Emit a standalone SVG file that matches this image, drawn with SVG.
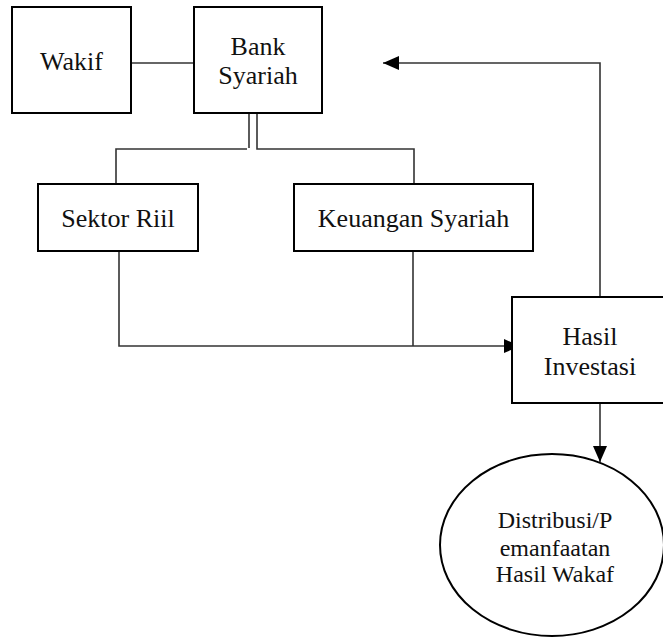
<svg xmlns="http://www.w3.org/2000/svg" width="663" height="637" viewBox="0 0 663 637">
  <style>
    .box { fill: #fff; stroke: #000; stroke-width: 2; }
    .conn { fill: none; stroke: #333; stroke-width: 1.6; }
    .lbl { font-family: "Liberation Serif", "Times New Roman", serif; font-size: 26px; fill: #111; text-anchor: middle; }
    .sm { font-size: 24px; }
  </style>
  <defs>
    <marker id="ah" markerUnits="userSpaceOnUse" markerWidth="16" markerHeight="14" refX="16" refY="7" orient="auto">
      <path d="M0,0 L16,7 L0,14 Z" fill="#000"/>
    </marker>
  </defs>
  <rect width="663" height="637" fill="#fff"/>
  <g id="connectors">
    <path class="conn" d="M131 63 H194"/>
    <path class="conn" d="M249 114 V148"/>
    <path class="conn" d="M247 149 H116 V184"/>
    <path class="conn" d="M257 114 V149 H414 V184"/>
    <path class="conn" d="M119 251 V346 H520" marker-end="url(#ah)"/>
    <path class="conn" d="M413 251 V346"/>
    <path class="conn" d="M600 297 V63 H383" marker-end="url(#ah)"/>
    <path class="conn" d="M600 403 V462" marker-end="url(#ah)"/>
  </g>
  <g id="wakif">
    <rect class="box" x="12" y="7" width="119" height="106"/>
    <text class="lbl" x="71.5" y="70">Wakif</text>
  </g>
  <g id="bank-syariah">
    <rect class="box" x="194" y="7" width="128" height="106"/>
    <text class="lbl" x="258" y="55">Bank</text>
    <text class="lbl" x="258" y="84">Syariah</text>
  </g>
  <g id="sektor-riil">
    <rect class="box" x="38" y="184" width="160" height="67"/>
    <text class="lbl" x="118" y="227">Sektor Riil</text>
  </g>
  <g id="keuangan-syariah">
    <rect class="box" x="294" y="184" width="239" height="67"/>
    <text class="lbl" x="413.5" y="227">Keuangan Syariah</text>
  </g>
  <g id="hasil-investasi">
    <rect class="box" x="512" y="297" width="156" height="106"/>
    <text class="lbl" x="590" y="345">Hasil</text>
    <text class="lbl" x="590" y="375">Investasi</text>
  </g>
  <g id="distribusi">
    <ellipse class="box" cx="552" cy="545" rx="112" ry="91"/>
    <text class="lbl sm" x="555" y="528">Distribusi/P</text>
    <text class="lbl sm" x="555" y="556">emanfaatan</text>
    <text class="lbl sm" x="555" y="582">Hasil Wakaf</text>
  </g>
</svg>
